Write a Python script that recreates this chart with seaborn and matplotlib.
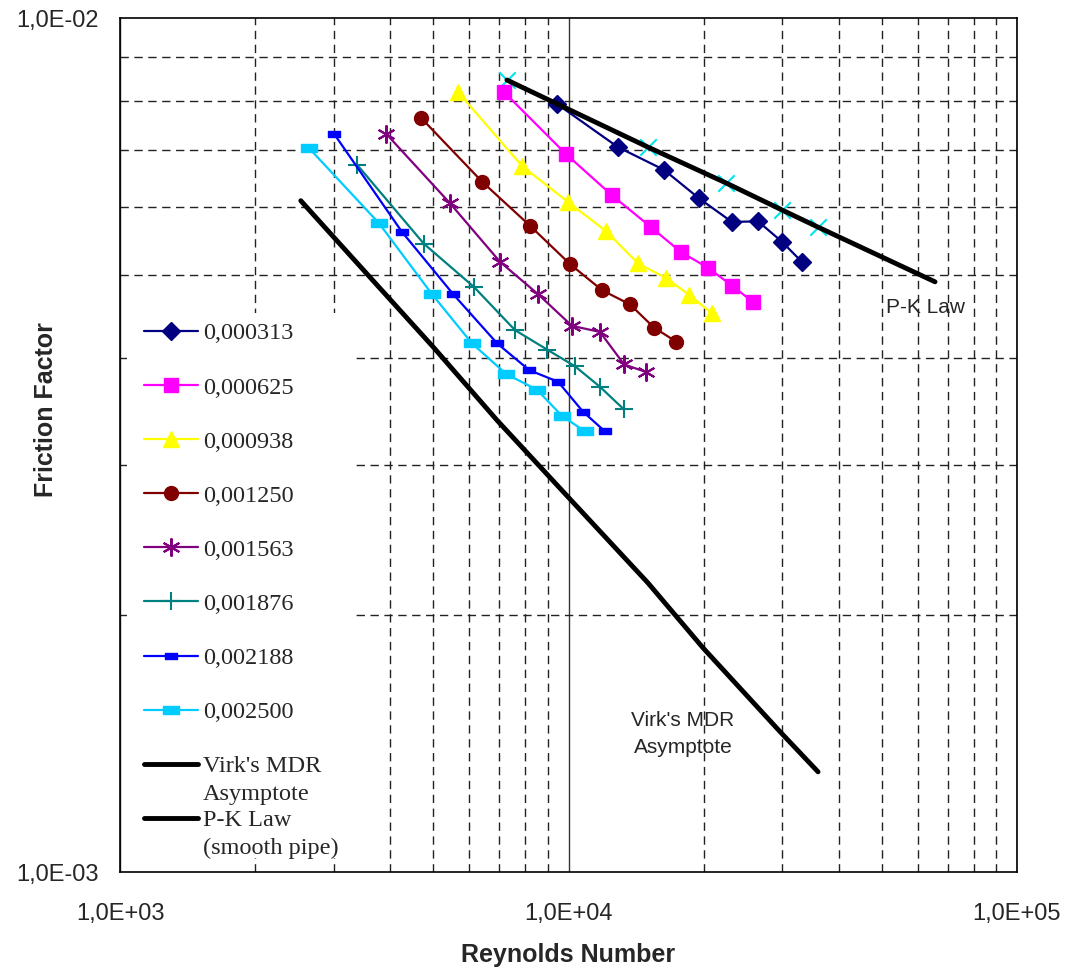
import numpy as np
import pandas as pd
import matplotlib
matplotlib.use("Agg")
import matplotlib.pyplot as plt
from matplotlib import font_manager
from matplotlib.ticker import FuncFormatter, LogLocator, NullFormatter
from matplotlib.path import Path
from matplotlib.patches import Rectangle
import seaborn as sns

# ---------------- data ----------------
labels = ["0,000313", "0,000625", "0,000938", "0,001250",
          "0,001563", "0,001876", "0,002188", "0,002500"]

re_000313 = [9430, 12890, 16330, 19540, 23140, 26460, 29920, 33160]
f_000313 = [0.00793, 0.00706, 0.00664, 0.00615, 0.00577, 0.00578, 0.00547, 0.00518]

re_000625 = [7180, 9870, 12500, 15270, 17810, 20460, 23140, 25790]
f_000625 = [0.00819, 0.00693, 0.00620, 0.00569, 0.00532, 0.00510, 0.00486, 0.00465]

re_000938 = [5670, 7880, 9970, 12120, 14290, 16500, 18570, 20890]
f_000938 = [0.00819, 0.00671, 0.00609, 0.00563, 0.00516, 0.00496, 0.00474, 0.00451]

re_001250 = [4690, 6420, 8210, 10080, 11880, 13710, 15510, 17360]
f_001250 = [0.00764, 0.00643, 0.00571, 0.00515, 0.00480, 0.00462, 0.00434, 0.00418]

re_001563 = [3920, 5440, 7040, 8550, 10180, 11750, 13300, 14890]
f_001563 = [0.00732, 0.00607, 0.00518, 0.00475, 0.00436, 0.00429, 0.00393, 0.00385]

re_001876 = [3380, 4760, 6160, 7600, 8960, 10340, 11750, 13300]
f_001876 = [0.00673, 0.00544, 0.00484, 0.00431, 0.00409, 0.00391, 0.00370, 0.00348]

re_002188 = [3000, 4250, 5530, 6930, 8170, 9480, 10770, 12060]
f_002188 = [0.00732, 0.00562, 0.00475, 0.00416, 0.00387, 0.00375, 0.00346, 0.00328]

re_002500 = [2640, 3780, 4960, 6090, 7260, 8510, 9670, 10890]
f_002500 = [0.00704, 0.00575, 0.00475, 0.00416, 0.00383, 0.00367, 0.00342, 0.00328]

re_mdr = [2530, 3610, 4990, 6930, 9970, 15040, 19950, 29620, 36010]
f_mdr = [0.00611, 0.00497, 0.00412, 0.00338, 0.00275, 0.00218, 0.00183, 0.00146, 0.00131]

re_pk = [7290, 15040, 22450, 29920, 36010, 65650]
f_pk = [0.00846, 0.00706, 0.00641, 0.00596, 0.00569, 0.00491]

series_re = [re_000313, re_000625, re_000938, re_001250,
             re_001563, re_001876, re_002188, re_002500]
series_f = [f_000313, f_000625, f_000938, f_001250,
            f_001563, f_001876, f_002188, f_002500]

# ---------------- styles ----------------
colors = ["#000080", "#FF00FF", "#FFFF00", "#800000",
          "#800080", "#008080", "#0000FF", "#00CCFF"]
rect = Path([(-1, -0.45), (1, -0.45), (1, 0.45), (-1, 0.45), (-1, -0.45)],
            [Path.MOVETO, Path.LINETO, Path.LINETO, Path.LINETO, Path.CLOSEPOLY])
markers = ["D", "s", "^", "o", (6, 2, 0), "+", rect, rect]
msizes = [9, 10, 11, 10, 13, 13, 9, 12]
mews = [1, 1, 1, 1, 1.5, 1.5, 1, 1]

sns.set_theme(style="white")
names = {f.name for f in font_manager.fontManager.ttflist}
sans = "Liberation Sans Narrow" if "Liberation Sans Narrow" in names else "Liberation Sans"
plt.rcParams["font.family"] = ["Liberation Sans", "DejaVu Sans"]
SANS = [sans, "DejaVu Sans"]

fig = plt.figure(figsize=(10.75, 9.74), dpi=100)
ax = fig.add_axes([120 / 1075, 1 - 872 / 974, 897 / 1075, 854 / 974])

ax.set_xscale("log")
ax.set_yscale("log")
ax.set_xlim(1e3, 1e5)
ax.set_ylim(1e-3, 1e-2)

# grid
ax.xaxis.set_major_locator(LogLocator(base=10, numticks=10))
ax.xaxis.set_minor_locator(LogLocator(base=10, subs=np.arange(2, 10), numticks=20))
ax.yaxis.set_major_locator(LogLocator(base=10, numticks=10))
ax.yaxis.set_minor_locator(LogLocator(base=10, subs=np.arange(2, 10), numticks=20))
ax.grid(which="minor", axis="both", color="#222222", linestyle=(0, (6, 4)), linewidth=1.0)
ax.grid(which="major", axis="x", color="#333333", linestyle="-", linewidth=1.0)
ax.set_axisbelow(True)

# white legend background area (hides the grid behind the legend)
ax.add_patch(Rectangle(((127 - 120) / 897, (872 - 858) / 854), (352 - 127) / 897,
                       (858 - 313) / 854, transform=ax.transAxes, facecolor="white",
                       edgecolor="none", zorder=1))

for re_, f_, c, m, ms, mew, lab in zip(series_re, series_f, colors, markers, msizes, mews, labels):
    df = pd.DataFrame({"Re": re_, "f": f_})
    sns.lineplot(data=df, x="Re", y="f", ax=ax, color=c, linewidth=1.6,
                 marker=m, markersize=ms, markeredgewidth=mew,
                 markeredgecolor=c, markerfacecolor=c, sort=False,
                 estimator=None, label=lab, zorder=3)

df_pk = pd.DataFrame({"Re": re_pk, "f": f_pk})
sns.scatterplot(data=df_pk.iloc[:5], x="Re", y="f", ax=ax, marker="x", color="#00E5EE",
                s=140, linewidth=1.5, zorder=2, legend=False)
sns.lineplot(data=pd.DataFrame({"Re": re_mdr, "f": f_mdr}), x="Re", y="f", ax=ax,
             color="black", linewidth=3.5, sort=False, estimator=None,
             label="Virk's MDR", zorder=4)
sns.lineplot(data=df_pk, x="Re", y="f", ax=ax, color="black", linewidth=3.5,
             sort=False, estimator=None, label="P-K Law", zorder=4)

# ticks and labels
fmt = FuncFormatter(lambda v, p: f"{v:.1E}".replace(".", ","))
ax.xaxis.set_major_formatter(fmt)
ax.yaxis.set_major_formatter(fmt)
ax.xaxis.set_minor_formatter(NullFormatter())
ax.yaxis.set_minor_formatter(NullFormatter())
ax.tick_params(which="major", direction="out", length=9, width=1, color="black",
               labelsize=17, pad=6)
ax.tick_params(axis="x", which="major", pad=13)
ax.tick_params(which="minor", direction="in", length=6, width=1, color="black")
for lab in ax.get_xticklabels() + ax.get_yticklabels():
    lab.set_family(SANS)

for s in ax.spines.values():
    s.set_color("black")
    s.set_linewidth(1.2)

ax.set_xlabel("Reynolds Number", fontsize=18, fontweight="bold", family=SANS)
ax.set_ylabel("Friction Factor", fontsize=18, fontweight="bold", family=SANS)
ax.xaxis.set_label_coords(0.5, -(955 - 872) / 854)
ax.xaxis.label.set_va("center")
ax.yaxis.set_label_coords(-(120 - 46) / 897, 1 - (410 - 18) / 854)
ax.yaxis.label.set_va("center")

ax.text((926 - 120) / 897, 1 - (308 - 18) / 854, "P-K Law", transform=ax.transAxes,
        fontsize=15, ha="center", va="center", family=SANS)
ax.text((683 - 120) / 897, 1 - (734 - 18) / 854, "Virk's MDR\nAsymptote",
        transform=ax.transAxes, fontsize=15, ha="center", va="center",
        linespacing=1.55, family=SANS)

SERIF = {"family": ["Liberation Serif", "DejaVu Serif"], "size": 17.5}
leg = ax.legend(loc="upper left", bbox_to_anchor=(0.019, 0.652), frameon=False,
                prop=SERIF, handlelength=2.2, handletextpad=0.2, labelspacing=1.32,
                borderpad=0.3, borderaxespad=0)
leg.set_zorder(10)

# second lines of the two-line legend labels
texts = leg.get_texts()
for t, extra in ((texts[8], "Asymptote"), (texts[9], "(smooth pipe)")):
    ax.annotate(extra, xy=(0, 0), xycoords=t, xytext=(0, -28 * 72 / 100),
                textcoords="offset points", ha="left", va="bottom",
                family=SERIF["family"], fontsize=SERIF["size"],
                zorder=11, annotation_clip=False)

fig.savefig("out.png", dpi=100)
